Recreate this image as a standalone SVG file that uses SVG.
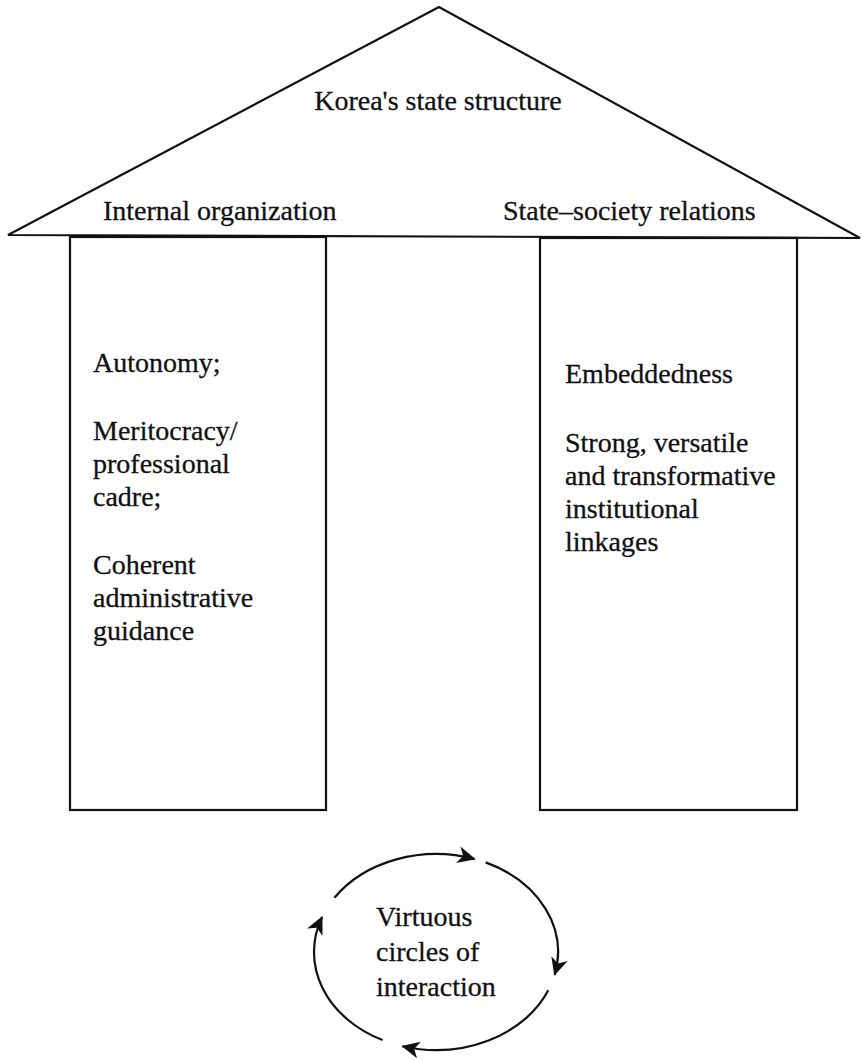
<svg xmlns="http://www.w3.org/2000/svg" width="862" height="1060" viewBox="0 0 862 1060">
<style>
.ln{fill:none;stroke:#111;stroke-width:2.2;stroke-linejoin:miter}
.t{font-family:"Liberation Serif","Times New Roman",serif;font-size:28px;fill:#111;stroke:#111;stroke-width:0.3}
.c{text-anchor:middle}
</style>
<defs>
<marker id="ah" viewBox="-19 -10 21 20" markerWidth="21" markerHeight="20" refX="0" refY="0" orient="auto" markerUnits="userSpaceOnUse">
<path d="M1,0 L-17,-8.5 L-12,0 L-17,8.5 Z" fill="#111"/>
</marker>
</defs>
<rect width="862" height="1060" fill="#fff"/>
<g id="roof">
<path class="ln" d="M439,7 L8,235 L860,238 Z"/>
<text class="t c" x="438" y="110">Korea's state structure</text>
<text class="t" x="103" y="220">Internal organization</text>
<text class="t" x="503" y="220">State–society relations</text>
</g>
<g id="pillar-internal">
<rect class="ln" x="70" y="237" width="256" height="573"/>
<text class="t" x="93" y="372">Autonomy;</text>
<text class="t" x="93" y="440">Meritocracy/</text>
<text class="t" x="93" y="473">professional</text>
<text class="t" x="93" y="506">cadre;</text>
<text class="t" x="93" y="574">Coherent</text>
<text class="t" x="93" y="607">administrative</text>
<text class="t" x="93" y="640">guidance</text>
</g>
<g id="pillar-society">
<rect class="ln" x="540" y="238" width="257" height="572"/>
<text class="t" x="565" y="383">Embeddedness</text>
<text class="t" x="565" y="452">Strong, versatile</text>
<text class="t" x="565" y="485">and transformative</text>
<text class="t" x="565" y="518">institutional</text>
<text class="t" x="565" y="551">linkages</text>
</g>
<g id="virtuous-circle">
<text class="t" x="376" y="926">Virtuous</text>
<text class="t" x="376" y="961">circles of</text>
<text class="t" x="376" y="996">interaction</text>
</g>
<g id="connectors">
<path class="ln" marker-end="url(#ah)" d="M334.4,897.8 A122,98 0 0 1 474.7,859.1"/>
<path class="ln" marker-end="url(#ah)" d="M485.6,862.4 A122,98 0 0 1 554.6,974.9"/>
<path class="ln" marker-end="url(#ah)" d="M548.3,990.3 A122,98 0 0 1 402.4,1046.2"/>
<path class="ln" marker-end="url(#ah)" d="M382.5,1040.1 A122,98 0 0 1 322.1,916.9"/>
</g>
</svg>
